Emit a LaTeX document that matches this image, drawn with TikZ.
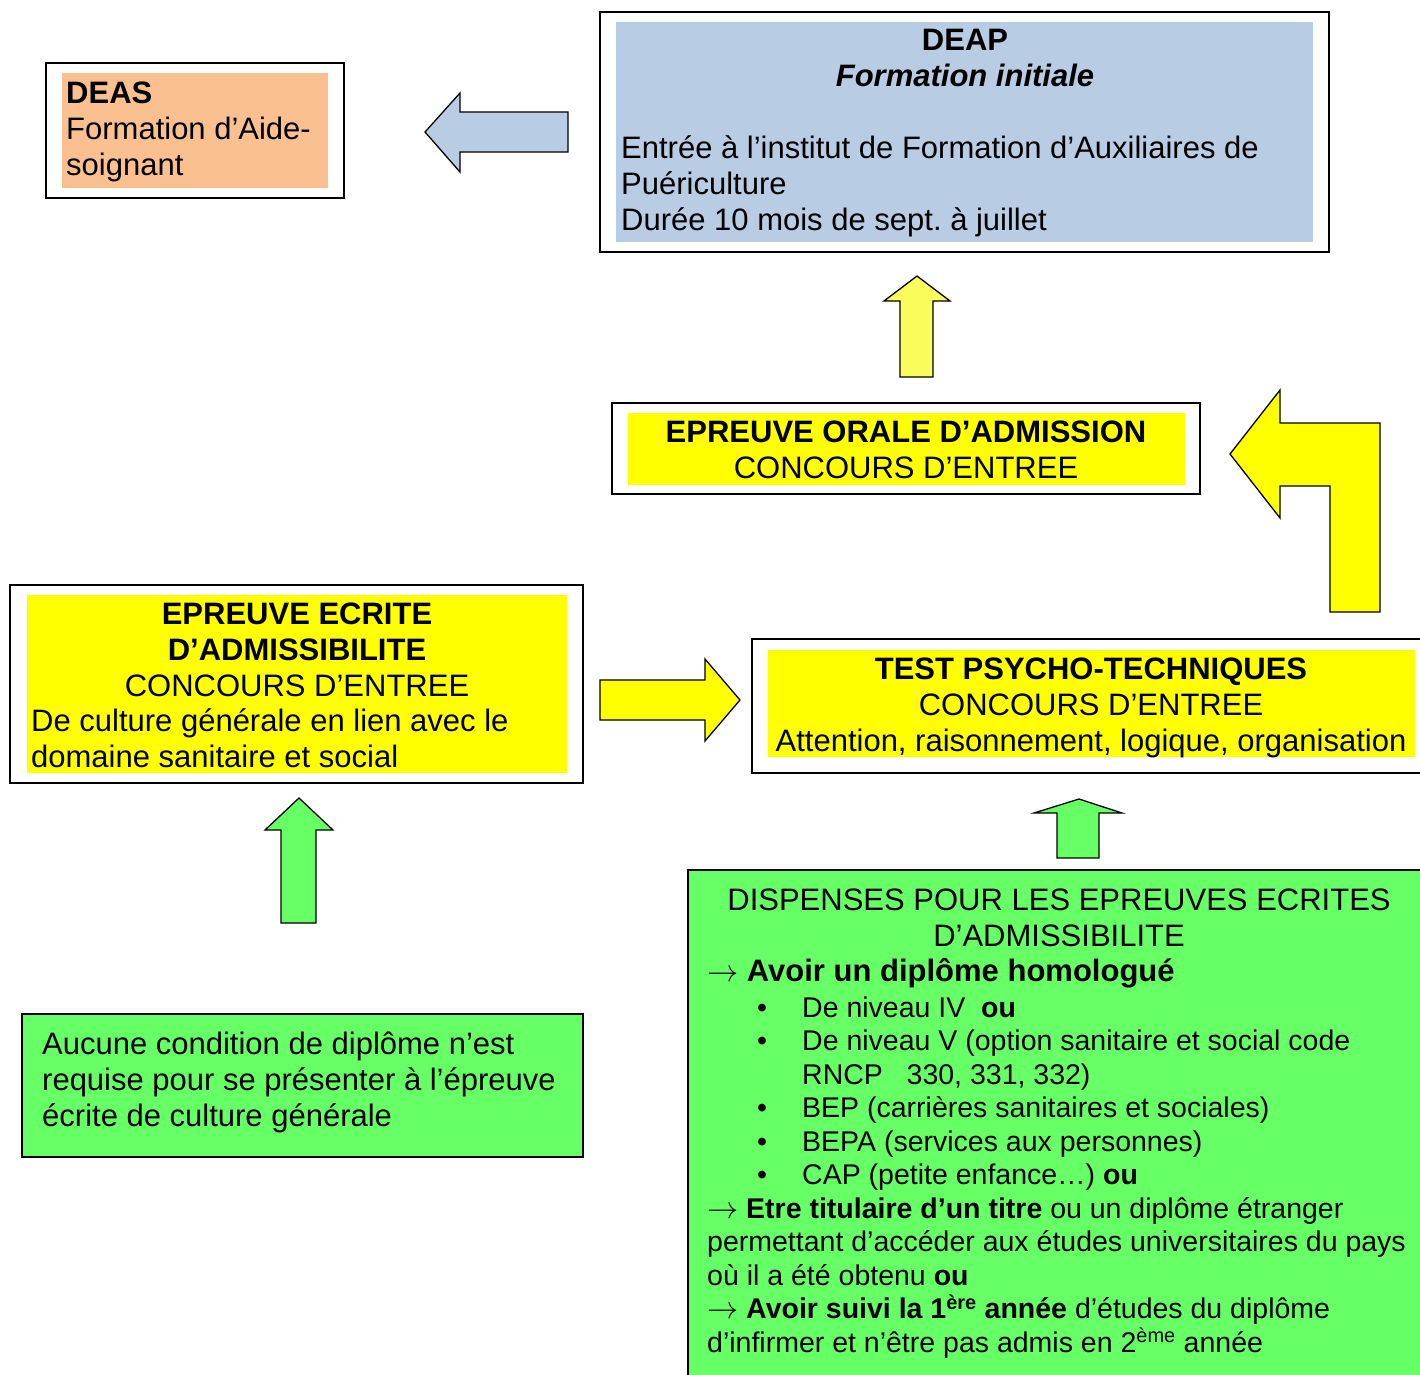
\documentclass[tikz,border=0pt]{standalone}
\usepackage{fontspec}
\setmainfont{Liberation Sans}
\usetikzlibrary{positioning}
\frenchspacing

\definecolor{bleuDEAP}{RGB}{184,204,228}
\definecolor{orangeDEAS}{RGB}{250,192,144}
\definecolor{jaune}{RGB}{255,255,0}
\definecolor{jauneclair}{RGB}{250,252,92}
\definecolor{vert}{RGB}{102,255,102}
\newcommand{\puce}{\makebox[95pt][l]{\hspace{50pt}\textbullet}}
\newcommand{\fl}{\scalebox{1.25}{$\rightarrow$}}

\tikzset{
  cadre/.style={draw=black, line width=1.6pt},
  fleche/.style={draw=black, line width=1.3pt, line join=miter},
  texte/.style={inner sep=0pt, font=\fontsize{31}{36}\selectfont},
  petit/.style={inner sep=0pt, font=\fontsize{28.5}{33.5}\selectfont},
}

\begin{document}
\begin{tikzpicture}[x=1pt,y=-1pt]
	\useasboundingbox (0,0) rectangle (1420,1374);

	% DEAS
	\draw[cadre] (46,63) rectangle (344,198);
	\fill[orangeDEAS] (62,73) rectangle (328,188);
	\node[texte, anchor=base west, align=left] (deas) at (66,175) {\textbf{DEAS}\\Formation d’Aide-\\soignant};

	% DEAP
	\draw[cadre] (600,12) rectangle (1329,252);
	\fill[bleuDEAP] (616,22) rectangle (1313,242);
	\node[texte, anchor=base, align=center] (deapTitre) at (965,86) {\textbf{DEAP}\\\textbf{\textit{Formation initiale}}};
	\node[texte, anchor=base west, align=left] (deap) at (621,230) {Entrée à l’institut de Formation d’Auxiliaires de\\Puériculture\\Durée 10 mois de sept. à juillet};

	% Epreuve orale
	\draw[cadre] (612,403) rectangle (1200,494);
	\fill[jaune] (628,413) rectangle (1185,485);
	\node[texte, anchor=base, align=center] (orale) at (906,478) {\textbf{EPREUVE ORALE D’ADMISSION}\\CONCOURS D’ENTREE};

	% Epreuve ecrite
	\draw[cadre] (10,585) rectangle (583,783);
	\fill[jaune] (27,595) rectangle (567,773);
	\node[texte, anchor=base, align=center] (ecriteTitre) at (297,696) {\textbf{EPREUVE ECRITE}\\\textbf{D’ADMISSIBILITE}\\CONCOURS D’ENTREE};
	\node[texte, anchor=base west, align=left] (ecrite) at (31,767) {De culture générale en lien avec le\\domaine sanitaire et social};

	% Tests psycho-techniques
	\draw[cadre] (752,639) rectangle (1430,773);
	\fill[jaune] (768,650) rectangle (1415,757);
	\node[texte, anchor=base, align=center] (test) at (1091,751) {\textbf{TEST PSYCHO-TECHNIQUES}\\CONCOURS D’ENTREE\\Attention, raisonnement, logique, organisation};

	% Aucune condition
	\draw[cadre, fill=vert] (22,1014) rectangle (583,1157);
	\node[texte, anchor=base west, align=left] (aucune) at (42,1126) {Aucune condition de diplôme n’est\\requise pour se présenter à l’épreuve\\écrite de culture générale};

	% Dispenses
	\draw[draw=black, line width=2.6pt, fill=vert] (688,870) rectangle (1430,1390);
	\node[texte, anchor=base, align=center] (dispTitre) at (1059,946) {DISPENSES POUR LES EPREUVES ECRITES\\D’ADMISSIBILITE};
	\node[texte, anchor=base west] (dispDiplome) at (707,981) {\fl\ \textbf{Avoir un diplôme homologué}};
	\node[petit, anchor=base west, align=left] (disp) at (707,1352) {%
		\puce De niveau IV\ \ \textbf{ou}\\
		\puce De niveau V (option sanitaire et social code\\
		\hspace*{95pt}RNCP\ \ \ 330, 331, 332)\\
		\puce BEP (carrières sanitaires et sociales)\\
		\puce BEPA (services aux personnes)\\
		\puce CAP (petite enfance…) \textbf{ou}\\
		\fl\ \textbf{Etre titulaire d’un titre} ou un diplôme étranger\\
		permettant d’accéder aux études universitaires du pays\\
		où il a été obtenu \textbf{ou}\\
		\fl\ \textbf{Avoir suivi la 1\textsuperscript{ère} année} d’études du diplôme\\
		d’infirmer et n’être pas admis en 2\textsuperscript{ème} année};

	% Block arrows
	\draw[fleche, fill=bleuDEAP] (425,132) -- (460,93) -- (460,112) -- (568,112) -- (568,152) -- (460,152) -- (460,172) -- cycle;
	\draw[fleche, fill=jauneclair] (917,276) -- (950,301) -- (933,301) -- (933,377) -- (900,377) -- (900,301) -- (884,301) -- cycle;
	\draw[fleche, fill=jaune] (1230,454) -- (1280,390) -- (1280,423) -- (1380,423) -- (1380,612) -- (1330,612) -- (1330,486) -- (1280,486) -- (1280,518) -- cycle;
	\draw[fleche, fill=jaune] (600,680) -- (705,680) -- (705,659) -- (740,700) -- (705,741) -- (705,720) -- (600,720) -- cycle;
	\draw[fleche, fill=vert] (299,798) -- (333,830) -- (316,830) -- (316,923) -- (281,923) -- (281,830) -- (265,830) -- cycle;
	\draw[fleche, fill=vert] (1079,799) -- (1122,813) -- (1099,813) -- (1099,858) -- (1057,858) -- (1057,813) -- (1034,813) -- cycle;
\end{tikzpicture}
\end{document}
